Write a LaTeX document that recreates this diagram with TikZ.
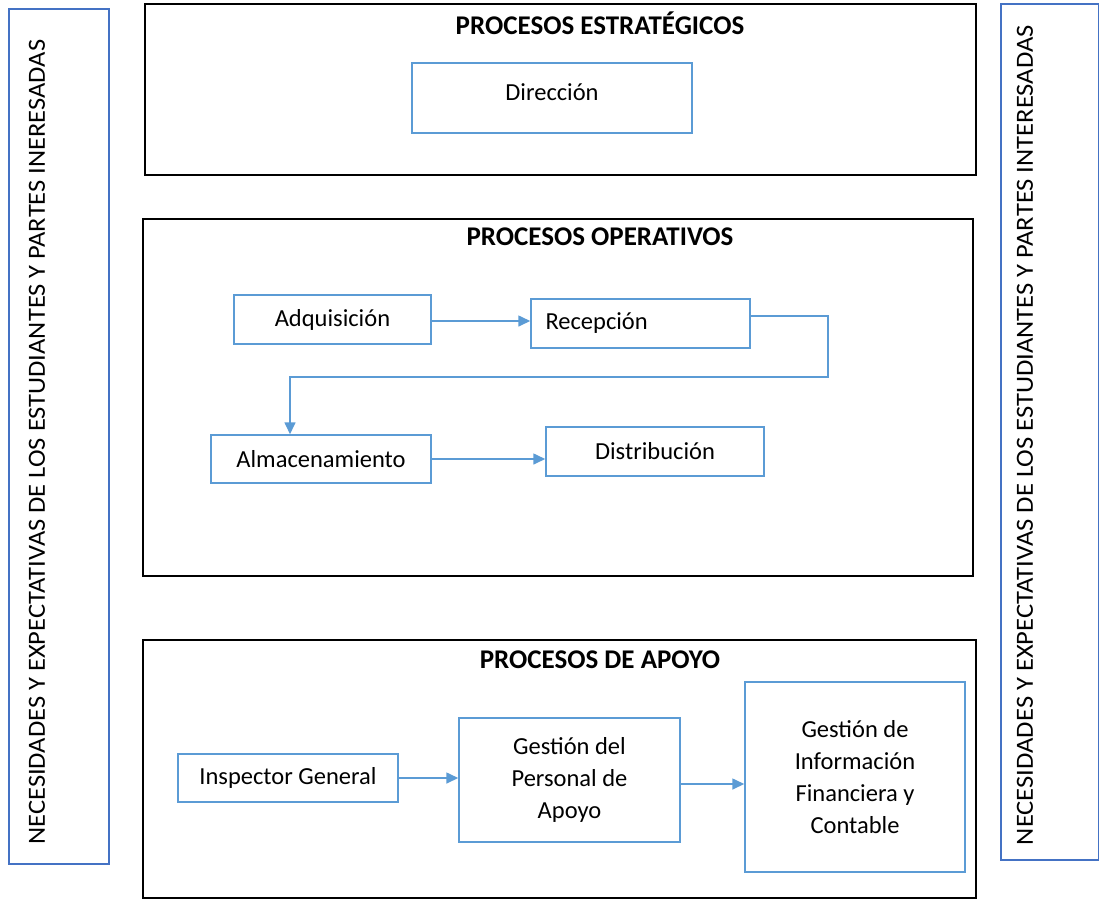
\documentclass[tikz,border=0pt]{standalone}
\usepackage{fontspec}
\setmainfont{Carlito}
\usetikzlibrary{arrows.meta}
\definecolor{boxblue}{HTML}{5B9BD5}
\definecolor{barblue}{HTML}{4472C4}
\begin{document}
\begin{tikzpicture}[x=1pt,y=-1pt,font=\fontsize{24.5}{32}\selectfont]
  \tikzstyle{frame}=[draw=black,line width=1.3pt,rectangle]
  \tikzstyle{box}=[draw=boxblue,line width=1.5pt,rectangle,align=center,inner sep=0pt]
  \tikzstyle{bar}=[draw=barblue,line width=1.5pt,rectangle]
  \tikzstyle{title}=[font=\fontsize{27}{30}\selectfont\bfseries]
  \tikzstyle{line}=[draw=boxblue,line width=1.6pt,-{Triangle[length=12pt,width=11pt]}]
  \useasboundingbox (0,0) rectangle (1099,900);

  % side bars
  \node[bar,minimum width=100pt,minimum height=855pt] (leftbar) at (59,436.5) {};
  \node[bar,minimum width=98pt,minimum height=856pt] (rightbar) at (1050,432) {};
  \node[rotate=90,inner sep=0pt] (lefttext) at (37,442)
    {\resizebox{805pt}{16pt}{NECESIDADES Y EXPECTATIVAS DE LOS ESTUDIANTES Y PARTES INERESADAS}};
  \node[rotate=90,inner sep=0pt] (righttext) at (1025,435)
    {\resizebox{820pt}{16pt}{NECESIDADES Y EXPECTATIVAS DE LOS ESTUDIANTES Y PARTES INTERESADAS}};

  % strategic
  \node[frame,minimum width=831pt,minimum height=171pt] (estr) at (560.5,89.5) {};
  \node[title] (estrtitle) at (600,23) {PROCESOS ESTRATÉGICOS};
  \node[box,minimum width=280pt,minimum height=70pt] (dir) at (552,98) {\raisebox{12pt}{Dirección}};

  % operative
  \node[frame,minimum width=830pt,minimum height=357pt] (oper) at (558,397.5) {};
  \node[title] (opertitle) at (600,237) {PROCESOS OPERATIVOS};
  \node[box,minimum width=197pt,minimum height=49pt] (adq) at (332.5,319.5) {Adquisición};
  \node[box,minimum width=219pt,minimum height=49pt,text width=190pt,align=left,inner xsep=14.5pt] (rec) at (640.5,323.5) {Recepción};
  \node[box,minimum width=220pt,minimum height=48pt] (alm) at (321,459) {Almacenamiento};
  \node[box,minimum width=218pt,minimum height=49pt] (dis) at (655,451.5) {Distribución};
  \coordinate (bend) at (828,377);

  \draw[line] ([yshift=-1.5]adq.east) -- ([yshift=-1.5]adq.east -| rec.west);
  \draw[line] ([yshift=7.5]rec.east) -| (bend) -| ([xshift=-31]alm.north);
  \draw[line] (alm.east) -- (alm.east -| dis.west);

  % support
  \node[frame,minimum width=833pt,minimum height=258pt] (apoyo) at (559.5,769) {};
  \node[title] (apoyotitle) at (600,660) {PROCESOS DE APOYO};
  \node[box,minimum width=220pt,minimum height=48pt] (insp) at (288,778) {Inspector General};
  \node[box,minimum width=221pt,minimum height=124pt] (gpers) at (569.5,780) {Gestión del\\Personal de\\Apoyo};
  \node[box,minimum width=220pt,minimum height=190pt] (ginfo) at (855,777) {Gestión de\\Información\\Financiera y\\Contable};

  \draw[line] (insp.east) -- (insp.east -| gpers.west);
  \draw[line] ([yshift=-4]gpers.east) -- ([yshift=-4]gpers.east -| ginfo.west);

\end{tikzpicture}
\end{document}
